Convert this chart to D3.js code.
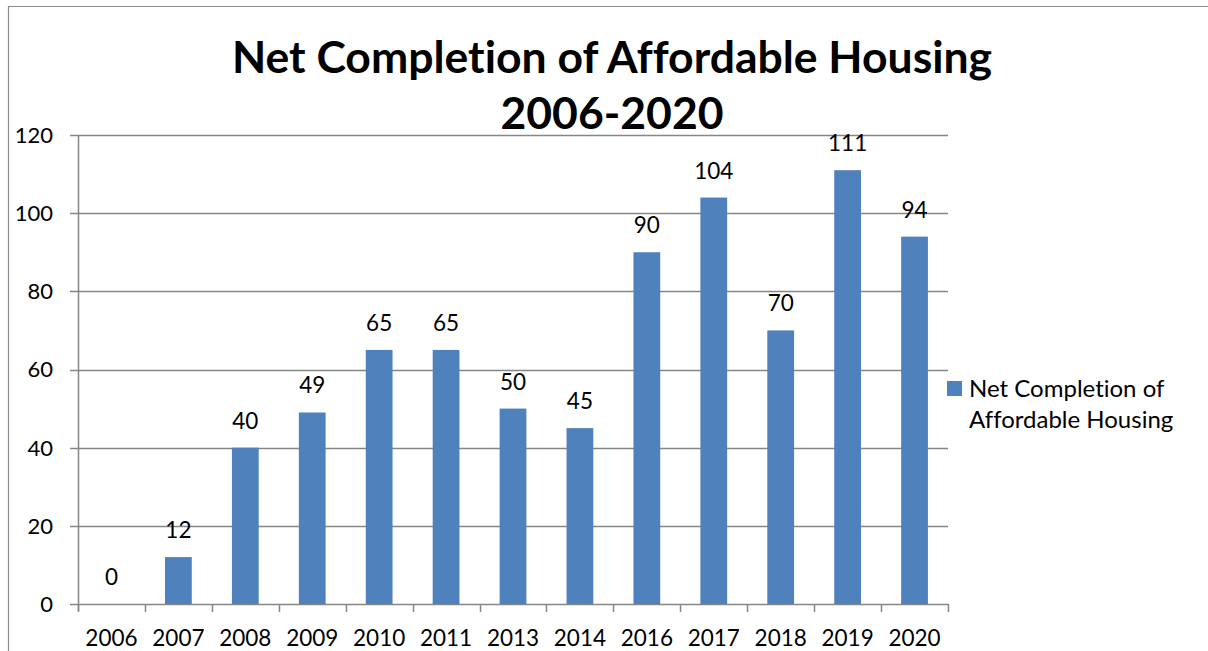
<!DOCTYPE html>
<html>
<head>
<meta charset="utf-8">
<script src="https://cdn.jsdelivr.net/npm/d3@7"></script>
<style>
  html, body { margin: 0; padding: 0; background: #fff; }
  svg { display: block; }
  text { font-family: Lato, "Open Sans", sans-serif; fill: #000; font-variant-ligatures: none; font-feature-settings: "liga" 0; }
</style>
</head>
<body>
<svg id="chart" width="1208" height="651"></svg>
<script>
const categories = ["2006","2007","2008","2009","2010","2011","2013","2014","2016","2017","2018","2019","2020"];
const values = [0, 12, 40, 49, 65, 65, 50, 45, 90, 104, 70, 111, 94];
const yTicks = [0, 20, 40, 60, 80, 100, 120];
const seriesName = "Net Completion of Affordable Housing";
const titleLines = ["Net Completion of Affordable Housing", "2006-2020"];
const legendLines = ["Net Completion of", "Affordable Housing"];

(function () {
const svg = d3.select("#chart");
const pLeft = 78, pRight = 948, pTop = 135, pBottom = 604;
const barColor = "#4F81BD";
const gridColor = "#868686";

// outer frame
svg.append("path")
  .attr("d", "M8.5,651 L8.5,6.5 L1208,6.5")
  .attr("fill", "none").attr("stroke", "#8c8c8c").attr("stroke-width", 1.2);

const x = d3.scaleBand().domain(categories).range([pLeft, pRight]).paddingInner(0.6).paddingOuter(0.3);
const xb = d3.scaleBand().domain(categories).range([pLeft, pRight]);
const y = d3.scaleLinear().domain([0, 120]).range([pBottom, pTop]);

// gridlines
svg.append("g").selectAll("line").data(yTicks).join("line")
  .attr("x1", pLeft - 8).attr("x2", pRight)
  .attr("y1", d => Math.round(y(d)) + 0.5).attr("y2", d => Math.round(y(d)) + 0.5)
  .attr("stroke", gridColor).attr("stroke-width", 1.5);

// y axis labels
svg.append("g").selectAll("text").data(yTicks).join("text")
  .attr("x", 53).attr("y", d => y(d))
  .attr("dy", "0.36em").attr("text-anchor", "end")
  .style("font-size", "22px").text(d => d);

// left axis line
svg.append("line").attr("x1", pLeft + 0.5).attr("x2", pLeft + 0.5)
  .attr("y1", pTop).attr("y2", pBottom + 7)
  .attr("stroke", gridColor).attr("stroke-width", 1.5);

// x ticks
const bounds = categories.map(c => xb(c)).concat([pRight]);
svg.append("g").selectAll("line").data(bounds).join("line")
  .attr("x1", d => Math.round(d) + 0.5).attr("x2", d => Math.round(d) + 0.5)
  .attr("y1", pBottom).attr("y2", pBottom + 8)
  .attr("stroke", gridColor).attr("stroke-width", 1.5);

// x labels
svg.append("g").selectAll("text").data(categories).join("text")
  .attr("x", d => xb(d) + xb.bandwidth() / 2).attr("y", 646)
  .attr("text-anchor", "middle").style("font-size", "22.5px").text(d => d);

// bars
svg.append("g").selectAll("rect").data(values).join("rect")
  .attr("x", (d, i) => x(categories[i]))
  .attr("width", x.bandwidth())
  .attr("y", d => y(d))
  .attr("height", d => y(0) - y(d))
  .attr("fill", barColor);

// value labels
svg.append("g").selectAll("text").data(values).join("text")
  .attr("x", (d, i) => x(categories[i]) + x.bandwidth() / 2)
  .attr("y", d => y(d) - 19)
  .attr("text-anchor", "middle").style("font-size", "22.5px").text(d => d);

// title
svg.append("g").selectAll("text").data(titleLines).join("text")
  .attr("x", 612).attr("y", (d, i) => 73 + i * 56)
  .attr("text-anchor", "middle")
  .style("font-size", "44.5px").style("font-weight", "bold")
  .text(d => d);

// legend
svg.append("rect").attr("x", 947).attr("y", 381).attr("width", 15).attr("height", 15).attr("fill", barColor);
svg.append("g").selectAll("text").data(legendLines).join("text")
  .attr("x", 969).attr("y", (d, i) => 397 + i * 31)
  .style("font-size", "24px").text(d => d);
})();
</script>
</body>
</html>
